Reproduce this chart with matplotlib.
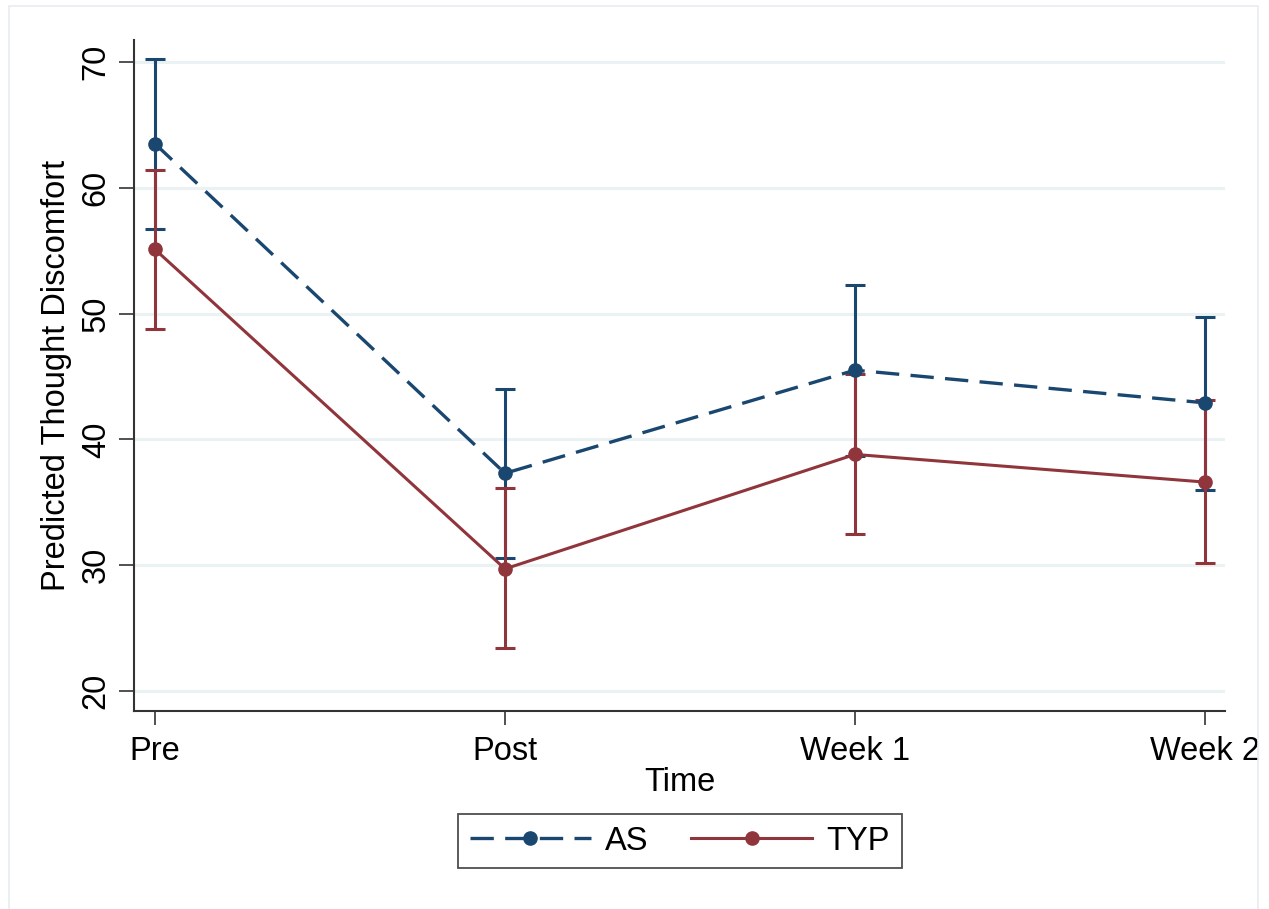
import matplotlib
matplotlib.use("Agg")
import matplotlib.pyplot as plt
from matplotlib.patches import Rectangle

plt.rcParams['font.family'] = ['Liberation Sans', 'DejaVu Sans']

times = ["Pre", "Post", "Week 1", "Week 2"]
as_mean = [63.5, 37.3, 45.5, 42.9]
as_low = [56.7, 30.6, 38.7, 36.0]
as_high = [70.2, 44.0, 52.3, 49.7]
typ_mean = [55.1, 29.7, 38.8, 36.6]
typ_low = [48.8, 23.4, 32.5, 30.2]
typ_high = [61.4, 36.1, 45.2, 43.1]
yticks = [20, 30, 40, 50, 60, 70]

navy = "#1a476f"
maroon = "#90353b"
grid = "#eaf2f3"
FS = 23.5

W, H = 1269, 909
fig = plt.figure(figsize=(W / 100, H / 100), dpi=100)
fig.patch.set_facecolor("white")
border = Rectangle((9 / W, -20 / H), (1249 / W), (1 + 20 / H - 6 / H),
                   transform=fig.transFigure, fill=False,
                   edgecolor="#e6edef", lw=1.2)
fig.add_artist(border)

ax = fig.add_axes([134 / W, 1 - 711 / H, (1225 - 134) / W, (711 - 40) / H])
x = list(range(len(times)))

def err(m, lo, hi):
    return [[a - b for a, b in zip(m, lo)], [b - a for a, b in zip(m, hi)]]

ax.errorbar(x, as_mean, yerr=err(as_mean, as_low, as_high), fmt="none",
            ecolor=navy, elinewidth=2.2, capsize=7.5, capthick=2.2, zorder=3)
ax.errorbar(x, typ_mean, yerr=err(typ_mean, typ_low, typ_high), fmt="none",
            ecolor=maroon, elinewidth=2.2, capsize=7.5, capthick=2.2, zorder=3)
l_as, = ax.plot(x, as_mean, color=navy, lw=2.4, ls=(0, (7, 3.4)), marker="o",
                markersize=9.5, zorder=5, label="AS")
l_typ, = ax.plot(x, typ_mean, color=maroon, lw=2.2, ls="-", marker="o",
                 markersize=9.5, zorder=4, label="TYP")

ax.set_xlim(-0.06, 3.057)
ax.set_ylim(18.4, 71.75)
ax.set_yticks(yticks)
ax.set_xticks(x)
ax.set_xticklabels(times, fontsize=FS)
ax.set_yticklabels([str(v) for v in yticks], fontsize=FS, rotation=90, va="center")
for yv in yticks:
    ax.axhline(yv, color=grid, lw=2.2, zorder=1)
ax.tick_params(axis="y", length=11, width=1.2, color="#333333", pad=5)
ax.tick_params(axis="x", length=10, width=1.2, color="#333333", pad=8)
for s in ["top", "right"]:
    ax.spines[s].set_visible(False)
for s in ["left", "bottom"]:
    ax.spines[s].set_color("#333333")
    ax.spines[s].set_linewidth(1.5)
ax.set_ylabel("Predicted Thought Discomfort", fontsize=FS, labelpad=6)
ax.set_xlabel("Time", fontsize=FS, labelpad=0)

leg = fig.legend(handles=[l_as, l_typ], labels=["AS", "TYP"],
                 loc="center", bbox_to_anchor=(680 / W, 1 - 841 / H),
                 ncol=2, fontsize=FS, frameon=True, fancybox=False,
                 handlelength=3.7, columnspacing=1.3, handletextpad=0.45,
                 borderpad=0.35)
leg.get_frame().set_edgecolor("#222222")
leg.get_frame().set_linewidth(1.3)

fig.savefig("out.png", dpi=100, facecolor="white")
